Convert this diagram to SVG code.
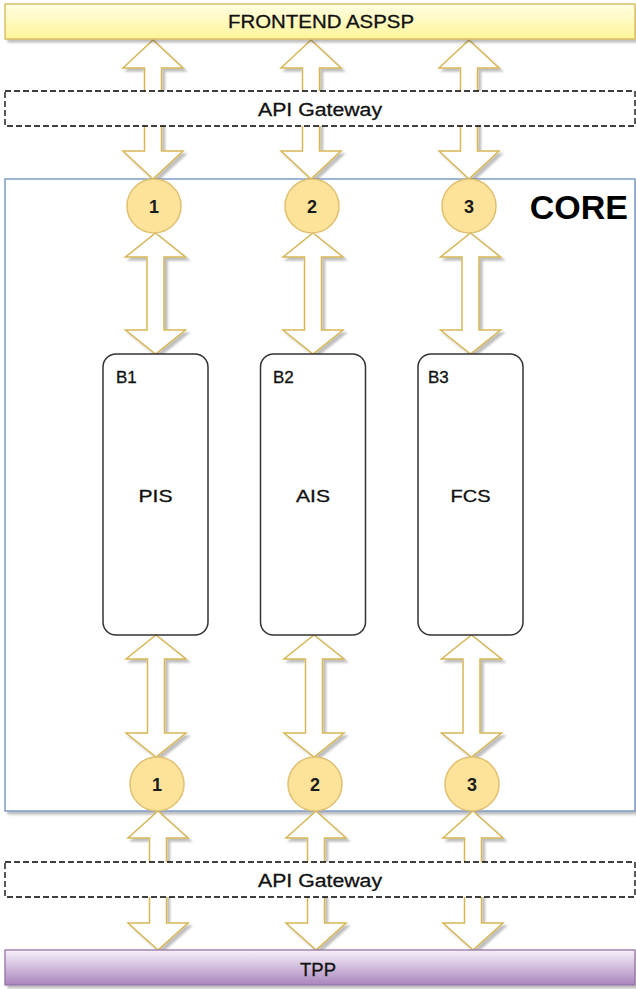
<svg xmlns="http://www.w3.org/2000/svg" width="636" height="989" viewBox="0 0 636 989">
<defs>
<linearGradient id="gYellow" x1="0" y1="0" x2="0" y2="1"><stop offset="0" stop-color="#fffee2"/><stop offset="1" stop-color="#fff59a"/></linearGradient>
<linearGradient id="gPurple" x1="0" y1="0" x2="0" y2="1"><stop offset="0" stop-color="#f7f2fa"/><stop offset="1" stop-color="#a985bd"/></linearGradient>
<filter id="sh" x="-20%" y="-20%" width="140%" height="140%"><feDropShadow dx="3" dy="3" stdDeviation="1" flood-color="#000" flood-opacity="0.25"/></filter>
<style>
.t{font-family:"Liberation Sans",Arial,sans-serif;fill:#111;stroke:#111;stroke-width:0.3;text-anchor:middle}
.arrow{fill:#fff;stroke:#d6b656;stroke-width:1.5;stroke-linejoin:miter;filter:url(#sh)}
.circ{fill:#fde39a;stroke:#e0c070;stroke-width:1.5}
.num{font-family:"Liberation Sans",Arial,sans-serif;font-size:18px;font-weight:bold;fill:#1a1a1a;text-anchor:middle}
.gw{fill:#fff;stroke:#000;stroke-width:1.3;stroke-dasharray:6 3}
.blk{fill:#fff;stroke:#333;stroke-width:1.5}
</style>
</defs>
<g id="core"><rect x="5" y="179" width="630" height="632" fill="#fff" stroke="#6c8ebf" stroke-width="1.3" filter="url(#sh)"/>
<text x="628" y="219" font-family="Liberation Sans,Arial,sans-serif" font-weight="bold" font-size="34" text-anchor="end" fill="#000">CORE</text></g>
<g id="connectors">
<path class="arrow" d="M153,40 L183,68 L161.5,68 L161.5,151 L183,151 L153,179 L123,151 L144.5,151 L144.5,68 L123,68 Z"/>
<path class="arrow" d="M311,40 L341,68 L319.5,68 L319.5,151 L341,151 L311,179 L281,151 L302.5,151 L302.5,68 L281,68 Z"/>
<path class="arrow" d="M469,40 L499,68 L477.5,68 L477.5,151 L499,151 L469,179 L439,151 L460.5,151 L460.5,68 L439,68 Z"/>
<path class="arrow" d="M155.5,233 L185.5,257 L164,257 L164,330 L185.5,330 L155.5,354 L125.5,330 L147,330 L147,257 L125.5,257 Z"/>
<path class="arrow" d="M313,233 L343,257 L321.5,257 L321.5,330 L343,330 L313,354 L283,330 L304.5,330 L304.5,257 L283,257 Z"/>
<path class="arrow" d="M470.5,233 L500.5,257 L479,257 L479,330 L500.5,330 L470.5,354 L440.5,330 L462,330 L462,257 L440.5,257 Z"/>
<path class="arrow" d="M156,635 L186,659 L164.5,659 L164.5,733 L186,733 L156,757 L126,733 L147.5,733 L147.5,659 L126,659 Z"/>
<path class="arrow" d="M314,635 L344,659 L322.5,659 L322.5,733 L344,733 L314,757 L284,733 L305.5,733 L305.5,659 L284,659 Z"/>
<path class="arrow" d="M471.5,635 L501.5,659 L480,659 L480,733 L501.5,733 L471.5,757 L441.5,733 L463,733 L463,659 L441.5,659 Z"/>
<path class="arrow" d="M158,811 L188,838 L166.5,838 L166.5,923 L188,923 L158,950 L128,923 L149.5,923 L149.5,838 L128,838 Z"/>
<path class="arrow" d="M316,811 L346,838 L324.5,838 L324.5,923 L346,923 L316,950 L286,923 L307.5,923 L307.5,838 L286,838 Z"/>
<path class="arrow" d="M473,811 L503,838 L481.5,838 L481.5,923 L503,923 L473,950 L443,923 L464.5,923 L464.5,838 L443,838 Z"/>
</g>
<g id="frontend"><rect x="5" y="4" width="630" height="35" fill="url(#gYellow)" stroke="#d6b656" stroke-width="1.3" filter="url(#sh)"/><text class="t" x="321" y="28" font-size="18" textLength="186" lengthAdjust="spacingAndGlyphs">FRONTEND ASPSP</text></g>
<g id="gateway-top"><rect class="gw" x="5" y="91" width="630" height="35"/><text class="t" x="320" y="116" font-size="18" textLength="124" lengthAdjust="spacingAndGlyphs">API Gateway</text></g>
<g id="gateway-bottom"><rect class="gw" x="5" y="862" width="630" height="35"/><text class="t" x="320" y="887" font-size="18" textLength="124" lengthAdjust="spacingAndGlyphs">API Gateway</text></g>
<g id="tpp"><rect x="5" y="950" width="630" height="35" fill="url(#gPurple)" stroke="#9673a6" stroke-width="1.3" filter="url(#sh)"/><text class="t" x="318" y="976" font-size="18" textLength="36" lengthAdjust="spacingAndGlyphs">TPP</text></g>
<g id="c1-top"><circle class="circ" cx="154" cy="206" r="27"/><text class="num" x="154" y="213">1</text></g>
<g id="c2-top"><circle class="circ" cx="312" cy="206" r="27"/><text class="num" x="312" y="213">2</text></g>
<g id="c3-top"><circle class="circ" cx="469" cy="206" r="27"/><text class="num" x="469" y="213" font-weight="normal">3</text></g>
<g id="c1-bottom"><circle class="circ" cx="157" cy="784" r="27"/><text class="num" x="157" y="791">1</text></g>
<g id="c2-bottom"><circle class="circ" cx="315" cy="784" r="27"/><text class="num" x="315" y="791">2</text></g>
<g id="c3-bottom"><circle class="circ" cx="472" cy="784" r="27"/><text class="num" x="472" y="791">3</text></g>
<g id="b1"><rect class="blk" x="103" y="354" width="105" height="281" rx="13"/><text class="t" x="116" y="383" font-size="17" style="text-anchor:start">B1</text><text class="t" x="155.5" y="502" font-size="17" textLength="34" lengthAdjust="spacingAndGlyphs">PIS</text></g>
<g id="b2"><rect class="blk" x="260.5" y="354" width="105" height="281" rx="13"/><text class="t" x="273" y="383" font-size="17" style="text-anchor:start">B2</text><text class="t" x="313" y="502" font-size="17" textLength="34" lengthAdjust="spacingAndGlyphs">AIS</text></g>
<g id="b3"><rect class="blk" x="418" y="354" width="105" height="281" rx="13"/><text class="t" x="428" y="383" font-size="17" style="text-anchor:start">B3</text><text class="t" x="470.5" y="502" font-size="17" textLength="40" lengthAdjust="spacingAndGlyphs">FCS</text></g>
</svg>
